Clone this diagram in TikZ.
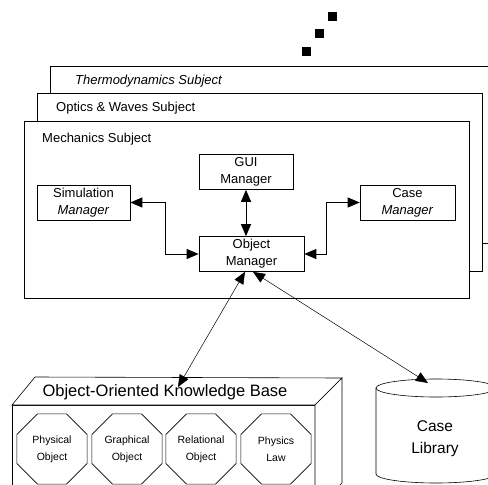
\documentclass[tikz,border=0pt]{standalone}
\usepackage{fontspec}
\setmainfont{Liberation Sans}
\usetikzlibrary{arrows.meta,shapes.geometric}

\tikzset{
  twoway/.style={{Triangle[length=12pt,width=10pt]}-{Triangle[length=12pt,width=10pt]}, line width=0.9pt},
  subject/.style={draw, fill=white, line width=0.7pt},
  title/.style={anchor=west, inner sep=0pt, font=\fontsize{13}{16}\selectfont},
  mgr/.style={draw, fill=white, line width=0.7pt, align=center, inner sep=1pt,
    minimum height=35pt, font=\fontsize{13}{17}\selectfont},
  octa/.style={draw, regular polygon, regular polygon sides=8, minimum size=76pt,
    inner sep=0pt, line width=0.6pt, align=center, font=\fontsize{10.5}{17}\selectfont},
}

\begin{document}
\begin{tikzpicture}[x=1pt,y=-1pt]

      \useasboundingbox (0,0) rectangle (488,485);
      \clip (0,0) rectangle (488,485);

      % more subjects behind
      \begin{scope}[every node/.style={fill, minimum size=9pt, inner sep=0pt}]
        \node (dot1) at (332,16.5) {};
        \node (dot2) at (319.5,33.5) {};
        \node (dot3) at (306.5,51.5) {};
      \end{scope}

      % subject frames, back to front
      \draw[subject] (50,66) rectangle (500,243);
      \draw[subject] (37,93) rectangle (482,271);
      \draw[subject] (24,121) rectangle (469,298);

      \begin{scope}[every node/.style=title]
        \node (thermo) at (75,81) {\itshape Thermodynamics Subject};
        \node (optics) at (56,108) {Optics \& Waves Subject};
        \node (mech)   at (42,139) {Mechanics Subject};
      \end{scope}

      \begin{scope}[every node/.style=mgr]
        \node[minimum width=94pt]  (gui)  at (246,172)    {GUI\\Manager};
        \node[minimum width=105pt] (obj)  at (251.5,254)  {Object\\Manager};
        \node[minimum width=93pt]  (sim)  at (83.5,202.5) {Simulation\\\textit{Manager}};
        \node[minimum width=95pt]  (case) at (407.5,202.5) {Case\\\textit{Manager}};
      \end{scope}

      % knowledge base block
      \draw[fill=white, line width=0.6pt] (12,405) rectangle (315,500);
      \draw[fill=white, line width=0.6pt] (12,405) -- (35,377) -- (342,378) -- (315,405) -- cycle;
      \draw[fill=white, line width=0.6pt] (315,405) -- (342,378) -- (342,483) -- (315,510) -- cycle;
      \node[font=\fontsize{16.5}{20}\selectfont] (kb) at (165,392) {Object-Oriented Knowledge Base};

      \begin{scope}[every node/.style=octa]
        \node (phys)  at (52,449)  {Physical\\Object};
        \node (graph) at (127,449) {Graphical\\Object};
        \node (rel)   at (201,449) {Relational\\Object};
        \node (law)   at (276,449) {Physics\\Law};
      \end{scope}

      % case library drum
      \draw[fill=white, line width=0.6pt] (376,388) -- (376,474)
        arc[start angle=180, end angle=0, x radius=60, y radius=9] -- (496,388);
      \draw[fill=white, line width=0.6pt] (436,388) ellipse [x radius=60, y radius=9];
      \node[align=center, font=\fontsize{15.5}{22}\selectfont] (lib) at (435,439) {Case\\Library};

      \coordinate (kbin)  at (178,387);
      \coordinate (libin) at (428,383);

      \draw[twoway] (sim.east) -- ++(35,0) |- (obj.west);
      \draw[twoway] (case.west) -- ++(-33,0) |- (obj.east);
      \draw[twoway] (gui.south) -- (gui.south |- obj.north);
      \draw[twoway, line width=0.5pt] ([xshift=-6.5pt]obj.south) -- (kbin);
      \draw[twoway, line width=0.5pt] ([xshift=1.5pt]obj.south) -- (libin);

\end{tikzpicture}
\end{document}
